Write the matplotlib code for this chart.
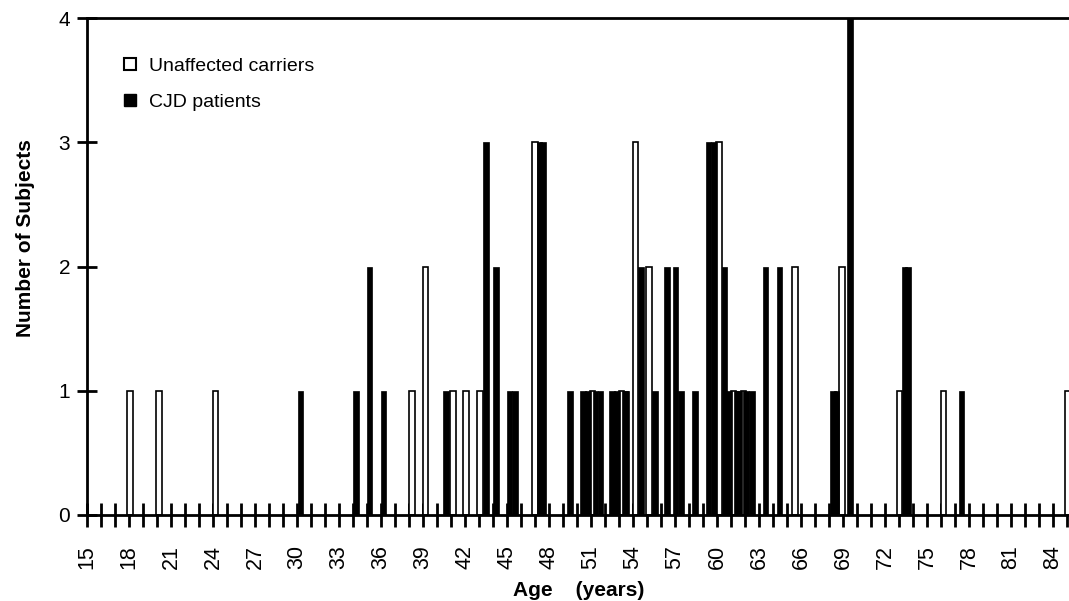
import matplotlib
matplotlib.use("Agg")
import matplotlib.pyplot as plt
from matplotlib.patches import Patch

# ---- data (ages in years = left edge of each bar, counts) ----
carrier_age = [17.85, 19.95, 23.98, 38.02, 38.98, 40.93, 41.88, 42.88, 46.82,
               50.90, 52.98, 53.98, 54.93, 59.95, 60.98, 61.70, 65.35, 68.73,
               72.83, 75.97, 84.88]
carrier_n = [1, 1, 1, 1, 2, 1, 1, 1, 3,
             1, 1, 3, 2, 3, 1, 1, 2, 2,
             1, 1, 1]

patient_age = [30.05, 34.00, 34.98, 35.98, 40.45, 43.30, 44.00, 44.98, 45.38,
               47.12, 47.36, 49.28, 50.21, 50.57, 51.11, 51.47, 52.30, 52.67,
               53.24, 53.34, 54.36, 55.36, 56.22, 56.82, 57.22, 58.22, 59.19,
               59.58, 60.33, 60.67, 61.18, 61.39, 61.89, 62.28, 63.26, 64.26,
               68.10, 68.33, 69.30, 73.19, 73.43, 77.26]
patient_n = [1, 1, 2, 1, 1, 3, 2, 1, 1,
             3, 3, 1, 1, 1, 1, 1, 1, 1,
             1, 1, 2, 1, 2, 2, 1, 1, 3,
             3, 2, 1, 1, 1, 1, 1, 2, 2,
             1, 1, 4, 2, 2, 1]

label_ticks = list(range(15, 85, 3))
all_ticks = list(range(15, 86))
y_ticks = [0, 1, 2, 3, 4]

plt.rcParams['font.family'] = ['Liberation Sans', 'DejaVu Sans']

fig = plt.figure(figsize=(10.69, 6.01), dpi=100)
ax = fig.add_axes([87 / 1069, 1 - 515 / 601, (1069 - 87) / 1069, (515 - 18) / 601])

bar_w = 0.4
ax.bar(carrier_age, carrier_n, width=bar_w, align='edge', color='white',
       edgecolor='black', linewidth=1.2, zorder=2)
ax.bar(patient_age, patient_n, width=bar_w, align='edge', color='black',
       edgecolor='black', linewidth=0.5, zorder=3)

ax.set_xlim(15, 85.14)
ax.set_ylim(0, 4)

ax.set_xticks(label_ticks)
ax.set_xticklabels([str(t) for t in label_ticks], rotation=90, fontsize=15.5)
ax.set_xticks(all_ticks, minor=True)
ax.tick_params(axis='x', which='both', direction='inout', length=17, width=2,
               pad=13)
ax.set_yticks(y_ticks)
ax.set_yticklabels([str(t) for t in y_ticks], fontsize=15)
ax.tick_params(axis='y', direction='inout', length=14, width=2, pad=5)

for s in ['left', 'bottom', 'top']:
    ax.spines[s].set_linewidth(2)
ax.spines['right'].set_visible(False)

ax.set_ylabel('Number of Subjects', fontsize=15, fontweight='bold')
ax.yaxis.set_label_coords(-0.063, (515 - 238) / (515 - 18))
ax.set_xlabel('Age    (years)', fontsize=15, fontweight='bold')
ax.xaxis.set_label_coords(0.501, -(590 - 515) / (515 - 18))
ax.xaxis.label.set_va('center')
ax.yaxis.label.set_va('center')

handles = [Patch(facecolor='white', edgecolor='black', linewidth=1.5),
           Patch(facecolor='black', edgecolor='black')]
ax.legend(handles, ['Unaffected carriers', 'CJD patients'],
          loc='upper left', bbox_to_anchor=(124 / 1069, 1 - 58 / 601),
          bbox_transform=fig.transFigure, frameon=False, fontsize=14,
          handlelength=0.6, handleheight=0.6, handletextpad=0.7,
          labelspacing=0.95, borderpad=0, borderaxespad=0)

fig.savefig('out.png', dpi=100)
